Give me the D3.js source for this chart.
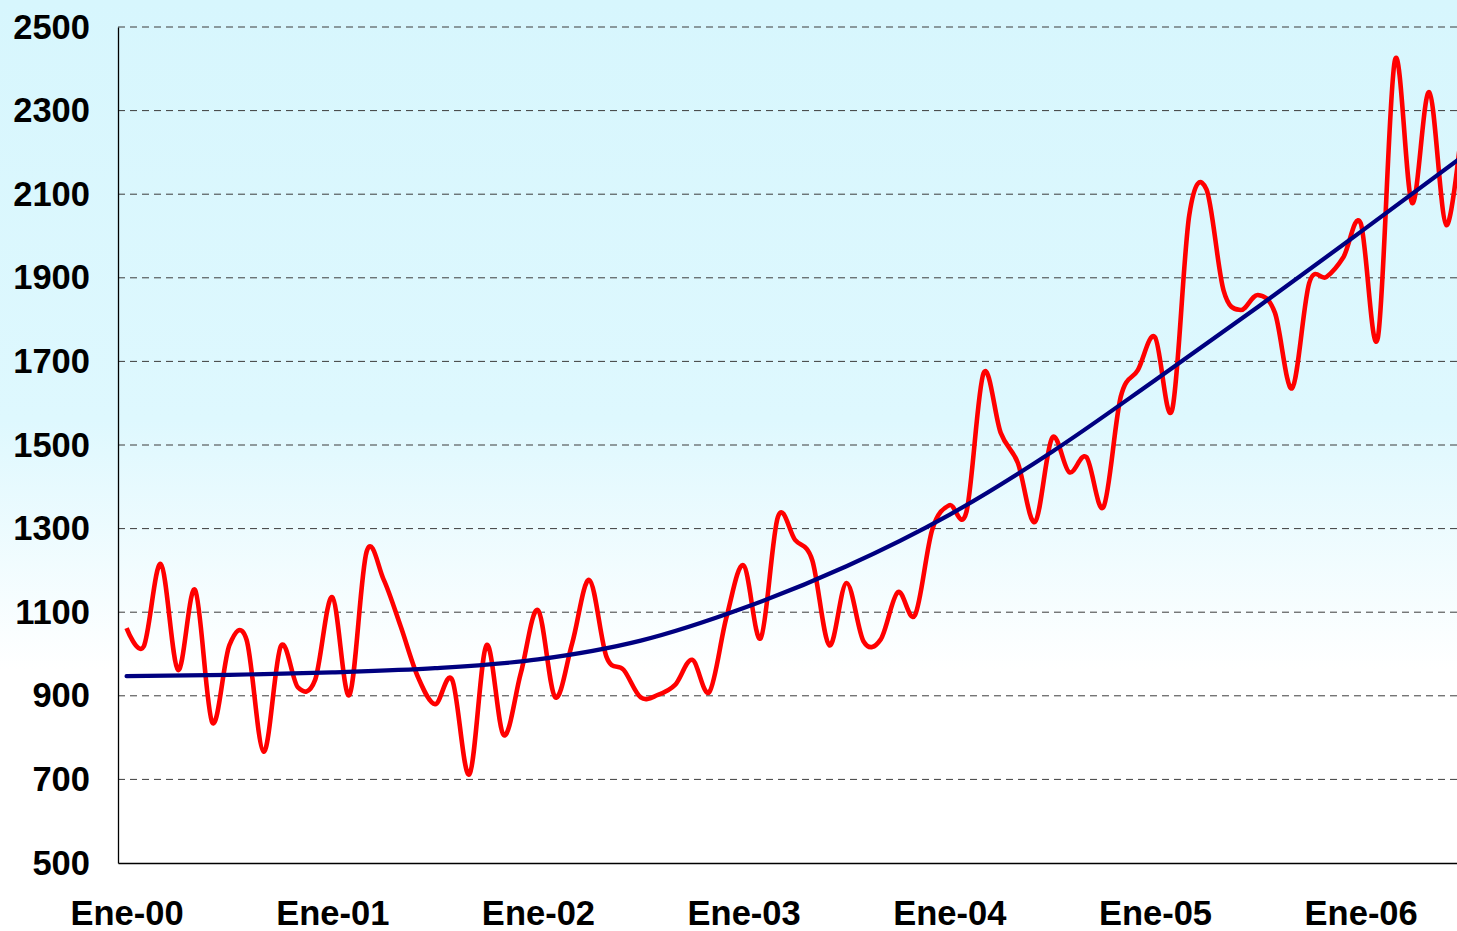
<!DOCTYPE html>
<html>
<head>
<meta charset="utf-8">
<script src="https://cdn.jsdelivr.net/npm/d3@7"></script>
<style>
  body { margin: 0; padding: 0; overflow: hidden; }
</style>
</head>
<body>
<div id="chart"></div>
<script>
// monthly values Ene-00 .. Jul-06
var monthNames = ["Ene", "Feb", "Mar", "Abr", "May", "Jun", "Jul", "Ago", "Sep", "Oct", "Nov", "Dic"]
var startYear = 0
var values = [
  1062, 1018, 1215, 962, 1153, 836, 1021, 1034, 766, 1019, 920, 938,
  1136, 902, 1244, 1178, 1065, 945, 880, 938, 712, 1021, 806, 954,
  1105, 897, 1026, 1177, 993, 962, 896, 902, 926, 986, 909, 1088,
  1212, 1038, 1328, 1273, 1225, 1021, 1170, 1030, 1035, 1148, 1093, 1297,
  1356, 1340, 1672, 1529, 1457, 1316, 1517, 1435, 1471, 1352, 1615, 1679,
  1758, 1584, 2050, 2112, 1870, 1823, 1859, 1816, 1636, 1888, 1902, 1950,
  2031, 1756, 2421, 2079, 2344, 2026, 2300
]
// trend line, read every 6 months
var trendMonths = [0, 6, 12, 18, 24, 30, 36, 42, 48, 54, 60, 66, 72, 78]
var trendValues = [947, 950, 956, 966, 987, 1032, 1110, 1210, 1333, 1484, 1655, 1830, 2010, 2192]
var yTicks = [500, 700, 900, 1100, 1300, 1500, 1700, 1900, 2100, 2300, 2500]
var xTicks = [0, 12, 24, 36, 48, 60, 72]

// category labels like "Ene-00"
var categories = values.map(function (v, i) {
  var yy = startYear + Math.floor(i / 12)
  return monthNames[i % 12] + "-" + (yy < 10 ? "0" + yy : yy)
})

var W = 1457, H = 931
var margin = { top: 27, right: 0, bottom: 68, left: 118 }

var svg = d3
  .select("#chart")
  .append("svg")
  .attr("width", W)
  .attr("height", H)

// background gradient cyan -> white
var grad = svg.append("defs").append("linearGradient")
  .attr("id", "bg")
  .attr("x1", 0).attr("y1", 0).attr("x2", 0).attr("y2", 1)
grad.append("stop").attr("offset", "0%").attr("stop-color", "#d7f6fd")
grad.append("stop").attr("offset", "45%").attr("stop-color", "#def8fe")
grad.append("stop").attr("offset", "72%").attr("stop-color", "#ffffff")
grad.append("stop").attr("offset", "100%").attr("stop-color", "#ffffff")

svg.append("rect")
  .attr("width", W)
  .attr("height", H)
  .attr("fill", "url(#bg)")

var x = d3.scaleLinear().domain([-0.5, 77.62]).range([margin.left, W - margin.right])
var y = d3.scaleLinear().domain([500, 2500]).range([H - margin.bottom, margin.top])

// dashed grid lines
svg.append("g")
  .selectAll("line")
  .data(yTicks.slice(1))
  .enter()
  .append("line")
  .attr("x1", margin.left)
  .attr("x2", W)
  .attr("y1", function (d) { return y(d) })
  .attr("y2", function (d) { return y(d) })
  .attr("stroke", "#3c3c3c")
  .attr("stroke-width", 1)
  .attr("stroke-dasharray", "7,5")

// Y axis
var yAxis = svg.append("g")
  .attr("transform", "translate(" + margin.left + ",0)")
  .call(d3.axisLeft(y).tickValues(yTicks).tickSize(0).tickPadding(28).tickFormat(d3.format("d")))
yAxis.select(".domain").attr("stroke", "#000").attr("stroke-width", 1.3)

// X axis
var xAxis = svg.append("g")
  .attr("transform", "translate(0," + y(500) + ")")
  .call(d3.axisBottom(x).tickValues(xTicks).tickSize(0).tickPadding(38)
    .tickFormat(function (d) { return categories[d] }))
xAxis.select(".domain").attr("stroke", "#000").attr("stroke-width", 1.3)

svg.selectAll(".tick text")
  .attr("font-family", "'Liberation Sans', Arial, sans-serif")
  .attr("font-weight", "bold")
  .attr("font-size", 34.5)
  .attr("fill", "#000")

// red monthly line
var line = d3.line()
  .x(function (d, i) { return x(i) })
  .y(function (d) { return y(d) })
  .curve(d3.curveCardinal.tension(0))

svg.append("path")
  .datum(values)
  .attr("d", line)
  .attr("fill", "none")
  .attr("stroke", "#ff0000")
  .attr("stroke-width", 4.6)
  .attr("stroke-linejoin", "round")

// navy trend line
var trendLine = d3.line()
  .x(function (d, i) { return x(trendMonths[i]) })
  .y(function (d) { return y(d) })
  .curve(d3.curveMonotoneX)

svg.append("path")
  .datum(trendValues)
  .attr("d", trendLine)
  .attr("fill", "none")
  .attr("stroke", "#000080")
  .attr("stroke-width", 4.2)
  .attr("stroke-linecap", "round")
</script>
</body>
</html>
